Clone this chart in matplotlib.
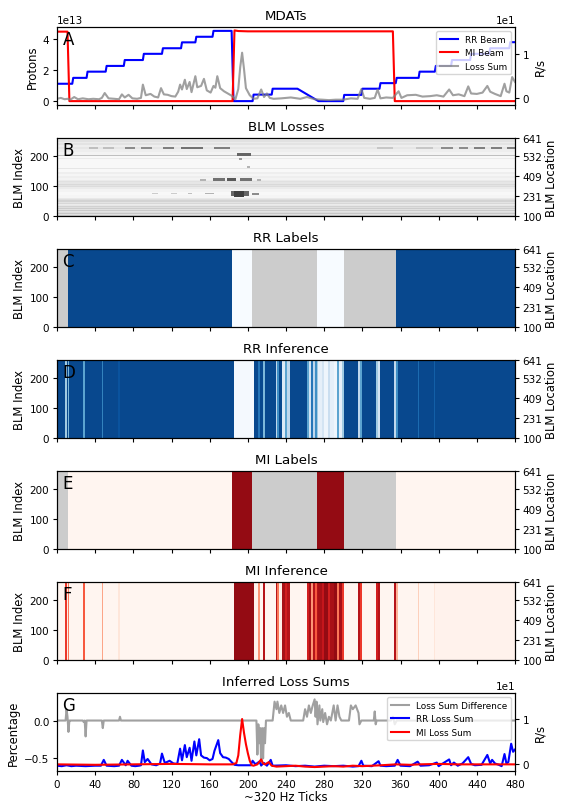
import numpy as np
import matplotlib
matplotlib.use('Agg')
import matplotlib.pyplot as plt

# ---------------- data ----------------
PROTON_UNIT = 1e13

# Panel A: beams (in units of 1e13 protons)
rr_beam_x = [0, 16, 17, 31, 32, 51, 52, 70, 71, 90,
             91, 110, 111, 130, 131, 145, 146, 163, 164, 183,
             185, 205, 206, 225, 226, 252, 274, 300, 301, 319,
             320, 338, 339, 355, 356, 379, 380, 396, 397, 413,
             414, 433, 434, 453, 454, 474, 475, 480]
rr_beam = [1.12, 1.12, 1.5, 1.5, 1.9, 1.9, 2.27, 2.27, 2.65, 2.65,
           3.05, 3.05, 3.41, 3.41, 3.79, 3.79, 4.15, 4.15, 4.53, 4.53,
           0.0, 0.0, 0.42, 0.42, 0.8, 0.8, 0.0, 0.0, 0.4, 0.4,
           0.8, 0.8, 1.16, 1.16, 1.5, 1.5, 1.9, 1.9, 2.27, 2.27,
           2.65, 2.65, 3.05, 3.05, 3.41, 3.41, 3.8, 3.8]
mi_beam_x = [0, 11, 13, 184, 186, 190, 200, 352, 354, 480]
mi_beam = [4.48, 4.48, 0.0, 0.0, 4.56, 4.52, 4.5, 4.5, 0.0, 0.0]

# Panel A: loss sum (R/s)
loss_x = [0, 4, 8, 11, 14, 18, 22, 27, 33, 38,
          44, 47, 50, 54, 60, 65, 68, 71, 75, 79,
          84, 88, 90, 93, 98, 102, 106, 109, 112, 116,
          120, 124, 127, 129, 131, 134, 136, 139, 141, 145,
          147, 151, 154, 157, 161, 164, 166, 168, 171, 175,
          179, 183, 187, 190, 192, 194, 196, 198, 202, 206,
          210, 214, 217, 220, 223, 227, 235, 245, 255, 262,
          270, 278, 285, 292, 300, 308, 315, 319, 322, 328,
          333, 336, 339, 345, 352, 358, 361, 367, 376, 383,
          391, 398, 405, 411, 415, 421, 427, 431, 434, 440,
          446, 451, 454, 459, 465, 469, 471, 474, 477, 480]
loss_sum = [-0.2, 0.0, -0.3, -0.2, -0.4, 0.2, -0.3, -0.1, -0.3, -0.2,
            -0.3, 0.0, 1.1, -0.1, -0.2, -0.3, 0.8, 0.1, 0.7, -0.1,
            -0.2, 0.0, 3.0, 0.6, 0.9, 0.3, 0.1, 2.2, 0.8, 0.7,
            0.4, 0.3, 1.4, 3.0, 1.9, 4.1, 2.0, 3.6, 1.3, 4.9,
            2.4, 2.7, 4.3, 1.7, 1.2, 2.7, 2.3, 4.9, 2.2, 1.5,
            1.0, 0.5, -0.3, 2.0, 6.9, 10.2, 6.5, 2.2, 0.6, -0.2,
            -0.1, 1.9, 0.2, 1.0, 0.0, -0.2, -0.1, 0.1, -0.2, 0.2,
            -0.3, -0.4, -0.5, -0.4, -0.4, -0.1, -0.2, 2.0, 0.0, -0.2,
            0.0, 1.9, -0.1, 0.1, 0.0, 1.5, 0.0, 0.6, 0.7, 0.3,
            0.4, 0.6, 0.3, 1.9, 0.6, 0.8, 0.4, 2.6, 1.0, 0.9,
            1.2, 2.7, 1.4, 0.9, 0.4, 3.2, 1.5, 1.2, 4.7, 3.6]

# Panel B: BLM losses (row bands and loss events)
N_BLM = 260
N_TICKS = 480
blm_bands = [(0, 3, 0.20), (3, 6, 0.12), (6, 9, 0.22), (9, 12, 0.14),
             (12, 15, 0.19), (15, 18, 0.11), (18, 21, 0.21), (21, 24, 0.12),
             (24, 27, 0.20), (27, 30, 0.13), (30, 33, 0.18), (33, 36, 0.10),
             (36, 40, 0.08), (40, 44, 0.16), (44, 48, 0.11), (48, 52, 0.17),
             (52, 56, 0.13), (56, 60, 0.09), (60, 70, 0.04), (70, 80, 0.03),
             (80, 90, 0.05), (90, 96, 0.08), (96, 100, 0.14), (100, 104, 0.11),
             (104, 108, 0.15), (108, 112, 0.10), (112, 116, 0.12), (116, 120, 0.08),
             (120, 126, 0.05), (126, 132, 0.07), (132, 140, 0.04), (140, 146, 0.07),
             (146, 158, 0.03), (158, 160, 0.10), (160, 190, 0.03), (190, 193, 0.08),
             (193, 200, 0.03), (200, 204, 0.25), (204, 215, 0.05), (215, 222, 0.07),
             (222, 231, 0.10), (231, 236, 0.07), (236, 242, 0.11), (242, 248, 0.08),
             (248, 254, 0.12), (254, 260, 0.08)]
blm_events = [(222, 231, 34, 43, 0.25), (222, 231, 48, 60, 0.25), (222, 231, 71, 82, 0.45),
              (222, 231, 88, 100, 0.45), (222, 231, 111, 123, 0.5), (222, 231, 130, 153, 0.55),
              (222, 231, 165, 181, 0.5), (222, 231, 335, 352, 0.22), (222, 231, 376, 394, 0.22),
              (222, 231, 402, 415, 0.45), (222, 231, 421, 431, 0.45), (222, 231, 437, 449, 0.5),
              (222, 231, 455, 466, 0.5), (222, 231, 472, 480, 0.5),
              (200, 210, 189, 203, 0.6), (186, 194, 191, 194, 0.4), (160, 168, 199, 202, 0.3),
              (117, 126, 164, 176, 0.55), (116, 127, 178, 188, 0.65), (117, 126, 192, 204, 0.55),
              (118, 124, 150, 156, 0.3), (118, 124, 210, 214, 0.3),
              (66, 82, 182, 201, 0.6), (63, 82, 185, 196, 0.75), (70, 78, 204, 212, 0.45),
              (72, 78, 155, 165, 0.3), (72, 78, 137, 142, 0.25), (72, 78, 120, 126, 0.2),
              (72, 78, 100, 106, 0.2)]

# Panels C/E: labels per tick segment (nan = unlabeled)
label_edges = [0, 12, 183, 204, 273, 301, 355, 480]
rr_label = [np.nan, 1, 0, np.nan, 0, np.nan, 1]
mi_label = [np.nan, 0, 1, np.nan, 1, np.nan, 0]

# Panels D/F: inference per tick segment
inf_edges = [0, 8, 10, 12, 13, 27, 29, 47, 48, 64,
             66, 186, 206, 211, 213, 216, 218, 229, 231, 233,
             236, 239, 241, 244, 262, 264, 266, 268, 270, 272,
             274, 278, 280, 284, 286, 290, 293, 296, 299, 301,
             315, 318, 320, 334, 336, 339, 353, 355, 357, 378,
             379, 395, 396, 480]
rr_inf = [1.0, 0.4, 1.0, 0.5, 1.0, 0.6, 1.0, 0.75, 1.0, 0.95,
          1.0, 0.02, 1.0, 0.8, 1.0, 0.5, 1.0, 0.3, 0.7, 1.0,
          0.15, 0.6, 0.3, 1.0, 0.6, 0.2, 0.8, 0.3, 0.7, 0.4,
          0.1, 0.2, 0.05, 0.25, 0.1, 0.05, 0.6, 0.1, 0.4, 1.0,
          0.3, 0.6, 1.0, 0.4, 0.2, 1.0, 0.3, 0.7, 1.0, 0.85,
          1.0, 0.9, 1.0]
mi_inf = [0.0, 0.7, 0.05, 0.5, 0.0, 0.6, 0.0, 0.35, 0.0, 0.1,
          0.0, 1.0, 0.02, 0.4, 0.0, 0.9, 0.0, 0.9, 0.5, 0.05,
          0.95, 0.8, 0.9, 0.0, 0.8, 0.95, 0.4, 0.9, 0.6, 0.9,
          0.95, 0.85, 1.0, 0.8, 0.95, 1.0, 0.5, 0.95, 0.7, 0.0,
          0.9, 0.7, 0.0, 0.8, 0.9, 0.0, 0.9, 0.3, 0.0, 0.2,
          0.0, 0.1, 0.02]

# Panel G: inferred loss sums
diff_x = [0, 9, 10, 11, 12, 13, 14, 27, 28, 29,
          30, 31, 47, 48, 49, 65, 66, 67, 209, 210,
          211, 212, 213, 214, 215, 216, 217, 218, 219, 226,
          228, 230, 231, 233, 235, 237, 239, 241, 243, 245,
          258, 260, 262, 264, 266, 268, 270, 271, 272, 273,
          275, 276, 278, 279, 281, 283, 285, 287, 290, 292,
          294, 296, 298, 306, 308, 310, 313, 316, 317, 319,
          332, 333, 334, 335, 350, 352, 354, 356, 480]
loss_diff = [0.0, 0.0, 0.15, 0.05, -0.15, 0.0, 0.0, 0.0, -0.02, 0.0,
             -0.21, 0.0, 0.0, -0.1, 0.0, 0.0, 0.05, 0.0, 0.0, -0.45,
             -0.05, -0.3, -0.1, -0.6, -0.1, -0.5, -0.1, -0.3, 0.0, 0.0,
             0.25, 0.15, 0.25, 0.1, 0.2, 0.1, 0.2, 0.05, 0.1, 0.0,
             0.0, 0.15, 0.05, 0.2, 0.1, 0.2, 0.28, 0.05, 0.25, -0.05,
             0.2, 0.0, 0.15, -0.02, 0.1, -0.05, 0.05, 0.0, 0.2, 0.0,
             0.2, 0.05, 0.0, 0.0, 0.2, 0.15, 0.2, 0.1, -0.05, 0.0,
             0.0, 0.12, -0.05, 0.0, 0.0, 0.05, -0.05, 0.0, 0.0]
rr_sum_x = [0, 5, 10, 15, 20, 30, 40, 46, 49, 52,
            60, 65, 68, 72, 74, 78, 82, 86, 88, 90,
            92, 95, 99, 104, 108, 110, 113, 118, 122, 126,
            129, 131, 134, 136, 139, 141, 144, 146, 149, 151,
            154, 157, 160, 163, 165, 169, 171, 174, 177, 180,
            183, 186, 190, 203, 205, 208, 212, 214, 217, 220,
            224, 226, 240, 250, 260, 270, 280, 290, 300, 310,
            316, 319, 321, 330, 337, 339, 345, 354, 357, 360,
            370, 378, 381, 390, 398, 400, 411, 413, 416, 420,
            425, 431, 434, 438, 445, 451, 454, 456, 459, 463,
            466, 469, 471, 473, 476, 478, 480]
rr_loss_sum = [-0.3, -0.4, -0.2, -0.4, -0.3, -0.4, -0.3, -0.3, 1.0, -0.3,
               -0.4, -0.3, 1.0, -0.2, 0.8, -0.3, -0.4, -0.3, -0.2, 3.1,
               0.5, 1.2, 0.0, -0.2, 0.2, 2.4, 0.3, 0.8, 0.2, 0.1,
               3.5, 0.9, 4.3, 1.6, 3.7, 0.8, 5.1, 2.0, 5.6, 2.0,
               1.5, 1.4, 0.9, 1.2, 3.0, 5.4, 2.5, 1.6, 1.5, 1.2,
               0.5, -0.1, -0.2, -0.2, 0.8, 0.0, 0.6, -0.2, 0.3, -0.3,
               1.0, -0.3, -0.2, -0.4, -0.3, -0.5, -0.3, -0.4, -0.3, -0.5,
               -0.4, 0.8, -0.3, -0.4, 0.7, -0.3, -0.4, -0.3, 1.0, -0.3,
               -0.4, 0.6, -0.3, -0.2, 0.4, -0.4, 1.1, -0.2, 0.4, -0.3,
               0.2, 1.6, 0.1, -0.2, -0.1, 2.1, 0.2, 1.0, 0.2, -0.1,
               -0.4, 2.3, 0.2, 0.5, 4.6, 2.8, 3.3]
mi_sum_x = [0, 40, 80, 120, 160, 184, 188, 190, 192, 194,
            196, 198, 200, 202, 204, 206, 210, 214, 216, 218,
            222, 225, 230, 240, 250, 260, 270, 280, 290, 300,
            310, 320, 330, 340, 355, 370, 380, 400, 420, 440,
            460, 480]
mi_loss_sum = [0.0, -0.1, 0.0, 0.1, 0.0, 0.0, 0.3, 2.0, 6.5, 10.1,
               7.0, 4.5, 2.5, 0.8, -0.2, -0.3, 0.0, 1.1, 0.2, 0.0,
               0.5, -0.3, -0.5, -0.4, -0.3, -0.5, -0.6, -0.5, -0.4, -0.5,
               -0.3, -0.4, -0.3, -0.2, 0.0, -0.1, 0.0, 0.1, 0.0, 0.0,
               0.0, 0.0]

x_ticks = [0, 40, 80, 120, 160, 200, 240, 280, 320, 360, 400, 440, 480]
loc_tick_pos = [0, 66, 133, 200, 260]
loc_tick_labels = ['100', '231', '409', '532', '641']
titles = ['MDATs', 'BLM Losses', 'RR Labels', 'RR Inference',
          'MI Labels', 'MI Inference', 'Inferred Loss Sums']
letters = ['A', 'B', 'C', 'D', 'E', 'F', 'G']

# ---------------- style ----------------
TITLE_FS = 9.6
LABEL_FS = 8.4
TICK_FS = 7.5
LEG_FS = 6.4
LETTER_FS = 12
plt.rcParams['font.family'] = ['DejaVu Sans']
plt.rcParams['xtick.labelsize'] = TICK_FS
plt.rcParams['ytick.labelsize'] = TICK_FS
plt.rcParams['xtick.major.size'] = 3
plt.rcParams['ytick.major.size'] = 3
plt.rcParams['xtick.major.pad'] = 2.5
plt.rcParams['ytick.major.pad'] = 2.5

W, H = 561, 803
fig = plt.figure(figsize=(W / 100, H / 100), dpi=100)


def panel_rect(i):
    top = 28 + 111 * i
    return [57 / W, 1 - (top + 78) / H, 458 / W, 78 / H]


axes = []
for i in range(7):
    ax = fig.add_axes(panel_rect(i))
    ax.set_xlim(0, N_TICKS)
    ax.set_xticks(x_ticks)
    ax.set_title(titles[i], fontsize=TITLE_FS, pad=6)
    ax.text(0.012, 0.96, letters[i], transform=ax.transAxes, fontsize=LETTER_FS,
            va='top', ha='left', zorder=10)
    if i < 6:
        ax.tick_params(axis='x', labelbottom=False)
    axes.append(ax)

# ---- A ----
ax = axes[0]
l1, = ax.plot(rr_beam_x, np.array(rr_beam) * PROTON_UNIT, color='blue', lw=1.5, label='RR Beam')
l2, = ax.plot(mi_beam_x, np.array(mi_beam) * PROTON_UNIT, color='red', lw=1.5, label='MI Beam')
ax.set_ylim(-0.25e13, 4.78e13)
ax.set_yticks([0, 2e13, 4e13])
ax.set_ylabel('Protons', fontsize=LABEL_FS, labelpad=3)
ax2 = ax.twinx()
l3, = ax2.plot(loss_x, loss_sum, color='gray', alpha=0.75, lw=1.5, label='Loss Sum')
ax2.set_ylim(-1.6, 16)
ax2.set_yticks([0, 10])
ax2.ticklabel_format(axis='y', style='sci', scilimits=(0, 0))
ax2.set_ylabel('R/s', fontsize=LABEL_FS, labelpad=3)
ax2.set_xlim(0, N_TICKS)
ax2.legend([l1, l2, l3], ['RR Beam', 'MI Beam', 'Loss Sum'], loc='upper right', fontsize=LEG_FS)

# ---- B ----
blm = np.zeros((N_BLM, N_TICKS))
for r0, r1, lev in blm_bands:
    blm[r0:r1, :] = lev
for r0, r1, c0, c1, lev in blm_events:
    blm[r0:r1, c0:c1] = np.maximum(blm[r0:r1, c0:c1], lev)
ax = axes[1]
ax.imshow(blm, extent=[0, N_TICKS, 0, N_BLM], origin='lower', aspect='auto',
          cmap='gray_r', vmin=0, vmax=1, interpolation='nearest')


def heat(ax, edges, vals, cmap_name):
    cmap = plt.get_cmap(cmap_name).copy()
    cmap.set_bad('#cccccc')
    data = np.ma.masked_invalid(np.array(vals, dtype=float)[None, :])
    ax.set_facecolor('#cccccc')
    ax.pcolormesh(edges, [0, N_BLM], data, cmap=cmap, vmin=0, vmax=1.1)


heat(axes[2], label_edges, rr_label, 'Blues')
heat(axes[3], inf_edges, rr_inf, 'Blues')
heat(axes[4], label_edges, mi_label, 'Reds')
heat(axes[5], inf_edges, mi_inf, 'Reds')

for i in range(1, 6):
    ax = axes[i]
    ax.set_xlim(0, N_TICKS)
    ax.set_ylim(0, N_BLM)
    ax.set_yticks([0, 100, 200])
    ax.set_ylabel('BLM Index', fontsize=LABEL_FS, labelpad=3)
    tw = ax.twinx()
    tw.set_ylim(0, N_BLM)
    tw.set_yticks(loc_tick_pos)
    tw.set_yticklabels(loc_tick_labels)
    tw.set_ylabel('BLM Location', fontsize=LABEL_FS, labelpad=2)

# ---- G ----
ax = axes[6]
g1, = ax.plot(diff_x, loss_diff, color='gray', alpha=0.75, lw=1.5, label='Loss Sum Difference')
ax.set_ylim(-0.667, 0.364)
ax.set_yticks([-0.5, 0.0])
ax.set_ylabel('Percentage', fontsize=LABEL_FS, labelpad=3)
ax.set_xlabel('~320 Hz Ticks', fontsize=LABEL_FS, labelpad=1)
ax2 = ax.twinx()
g2, = ax2.plot(rr_sum_x, rr_loss_sum, color='blue', lw=1.5, label='RR Loss Sum')
g3, = ax2.plot(mi_sum_x, mi_loss_sum, color='red', lw=1.5, label='MI Loss Sum')
ax2.set_ylim(-1.48, 15.9)
ax2.set_yticks([0, 10])
ax2.ticklabel_format(axis='y', style='sci', scilimits=(0, 0))
ax2.set_ylabel('R/s', fontsize=LABEL_FS, labelpad=3)
ax2.set_xlim(0, N_TICKS)
ax2.legend([g1, g2, g3], ['Loss Sum Difference', 'RR Loss Sum', 'MI Loss Sum'],
           loc='upper right', fontsize=LEG_FS)

fig.savefig('out.png', dpi=100)
